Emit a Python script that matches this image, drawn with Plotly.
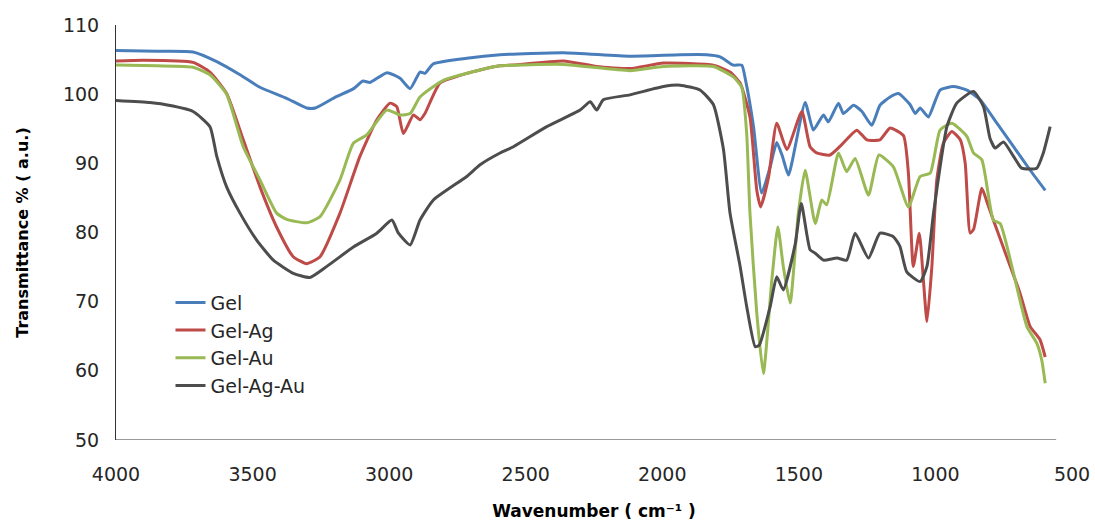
import plotly.graph_objects as go

# ---- data (wavenumber cm-1, transmittance %) ----
gel_x = [4000, 3850, 3718, 3631, 3546, 3473, 3375, 3302, 3270, 3200, 3130, 3096, 3070, 3008, 2960, 2923,
         2887, 2869, 2838, 2716, 2594, 2362, 2118, 1935, 1837, 1788, 1740, 1709, 1695, 1666, 1636, 1605,
         1581, 1560, 1538, 1477, 1447, 1410, 1392, 1355, 1337, 1300, 1269, 1233, 1203, 1166, 1135, 1093,
         1074, 1056, 1026, 983, 934, 885, 836, 775, 714, 653, 598]
gel_y = [106.3, 106.2, 106.1, 104.7, 102.8, 101.0, 99.4, 98.0, 98.0, 99.5, 100.8, 101.9, 101.7, 103.1, 102.3, 100.8,
         103.2, 103.0, 104.4, 105.2, 105.7, 106.0, 105.5, 105.7, 105.7, 105.4, 104.2, 104.2, 102.0, 95.3, 85.7, 89.5,
         93.0, 91.0, 88.3, 98.8, 94.8, 97.0, 96.0, 98.7, 97.2, 98.4, 97.5, 95.5, 98.4, 99.6, 100.1, 98.5,
         97.2, 98.0, 96.7, 100.6, 101.1, 100.6, 99.2, 95.8, 92.4, 89.0, 86.1]

ag_x = [4000, 3900, 3718, 3656, 3595, 3534, 3473, 3412, 3351, 3302, 3253, 3180, 3107, 3045, 2997, 2972,
        2948, 2911, 2887, 2869, 2814, 2716, 2667, 2594, 2545, 2362, 2240, 2118, 1996, 1813, 1752, 1715,
        1679, 1654, 1640, 1611, 1581, 1544, 1489, 1459, 1435, 1386, 1343, 1288, 1251, 1203, 1166, 1117,
        1099, 1081, 1059, 1044, 1031, 1013, 995, 971, 940, 909, 891, 873, 860, 830, 812, 788, 739, 690,
        653, 617, 598]
ag_y = [104.8, 104.9, 104.6, 103.2, 100.1, 93.4, 86.6, 80.8, 76.5, 75.5, 76.5, 82.8, 91.0, 96.3, 98.7, 98.2,
        94.3, 97.0, 96.3, 97.2, 101.6, 103.0, 103.5, 104.1, 104.2, 104.8, 104.0, 103.7, 104.5, 104.2, 103.2, 101.6,
        96.7, 86.1, 83.7, 88.0, 95.8, 92.0, 97.5, 92.4, 91.5, 91.2, 92.7, 94.8, 93.4, 93.4, 95.1, 94.0,
        88.6, 75.1, 79.9, 73.1, 67.1, 75.1, 87.6, 92.9, 94.6, 93.4, 90.0, 79.9, 80.5, 86.4, 84.5, 81.8, 76.5, 71.2,
        66.4, 64.5, 62.0]

au_x = [4000, 3850, 3718, 3656, 3595, 3534, 3473, 3412, 3375, 3302, 3253, 3180, 3131, 3082, 3009, 2960,
        2923, 2887, 2802, 2667, 2594, 2362, 2118, 1996, 1813, 1740, 1709, 1691, 1679, 1654, 1630, 1599,
        1577, 1557, 1532, 1502, 1477, 1440, 1416, 1398, 1355, 1325, 1294, 1245, 1207, 1154, 1099, 1056,
        1019, 983, 940, 885, 861, 830, 788, 763, 714, 665, 629, 611, 598]
au_y = [104.2, 104.1, 103.9, 102.8, 100.0, 92.4, 87.6, 82.8, 81.9, 81.4, 82.3, 87.6, 92.9, 94.1, 97.7, 97.0,
        97.2, 99.6, 102.0, 103.5, 104.1, 104.3, 103.4, 104.0, 104.0, 102.5, 101.0, 94.3, 82.8, 68.3, 59.6, 73.1,
        80.8, 75.1, 69.8, 82.8, 89.0, 81.3, 84.7, 84.0, 91.5, 88.8, 90.7, 85.4, 91.2, 89.5, 83.7, 88.1,
        88.6, 94.8, 95.8, 93.9, 91.5, 90.5, 81.8, 81.3, 74.1, 66.4, 64.0, 61.6, 58.2]

agau_x = [4000, 3876, 3836, 3718, 3656, 3631, 3595, 3546, 3485, 3424, 3351, 3290, 3228, 3131, 3045, 2990,
          2966, 2923, 2887, 2838, 2716, 2667, 2594, 2545, 2423, 2301, 2264, 2240, 2216, 2118, 1996, 1935,
          1862, 1813, 1776, 1752, 1715, 1691, 1660, 1645, 1605, 1581, 1557, 1513, 1491, 1459, 1440, 1410,
          1360, 1325, 1294, 1245, 1203, 1154, 1130, 1105, 1056, 1031, 1007, 958, 922, 861, 824, 800,
          781, 751, 714, 684, 629, 605, 580]
agau_y = [99.1, 98.8, 98.6, 97.5, 95.3, 91.0, 86.6, 82.8, 78.9, 76.0, 74.1, 73.5, 75.1, 77.9, 79.9, 81.8,
          79.9, 78.2, 81.8, 84.7, 88.1, 89.8, 91.5, 92.4, 95.3, 97.7, 98.9, 97.7, 99.2, 99.9, 101.1, 101.3,
          100.6, 98.5, 92.0, 82.8, 75.1, 69.3, 63.5, 63.7, 69.3, 73.6, 71.7, 78.4, 84.2, 77.5, 77.0, 76.0,
          76.3, 76.0, 79.9, 76.3, 79.9, 79.4, 78.0, 74.3, 72.9, 75.1, 82.8, 95.3, 98.7, 100.4, 98.2, 93.6,
          92.2, 93.1, 91.0, 89.3, 89.3, 91.5, 95.3]

series_names = ["Gel", "Gel-Ag", "Gel-Au", "Gel-Ag-Au"]
series_colors = ["#4A7EBB", "#BE4B48", "#98B954", "#4D4D4D"]

x_ticks = [4000, 3500, 3000, 2500, 2000, 1500, 1000, 500]
y_ticks = [50, 60, 70, 80, 90, 100, 110]

FONT = "DejaVu Sans"

fig = go.Figure()
for name, xs, ys, col in zip(series_names, [gel_x, ag_x, au_x, agau_x], [gel_y, ag_y, au_y, agau_y], series_colors):
    fig.add_trace(go.Scatter(x=xs, y=ys, mode="lines", name=name,
                             line=dict(color=col, width=3, shape="spline", smoothing=0.5)))

fig.update_layout(
    width=1095, height=521,
    margin=dict(l=116, r=23, t=25, b=81),
    paper_bgcolor="white", plot_bgcolor="white",
    font=dict(family=FONT, size=19, color="#262626"),
    showlegend=True,
    legend=dict(x=0.057, y=0.377, xanchor="left", yanchor="top",
                bgcolor="rgba(0,0,0,0)", font=dict(size=19, color="#262626"),
                tracegroupgap=0),
    xaxis=dict(range=[4000, 500], tickvals=x_ticks, ticktext=[str(v) for v in x_ticks],
               showgrid=False, zeroline=False, showline=False, ticks="", automargin=False,
               ticklabelstandoff=21,
               title=dict(text="<b>Wavenumber ( cm⁻¹ )</b>", font=dict(size=17, color="#000000"),
                          standoff=21)),
    yaxis=dict(range=[50, 110], tickvals=y_ticks, ticktext=[str(v) for v in y_ticks],
               showgrid=False, zeroline=False, showline=True, linecolor="#333333", linewidth=1,
               ticks="", ticklabelstandoff=12, automargin=False,
               title=dict(text="<b>Transmittance % ( a.u.)</b>", font=dict(size=16, color="#000000"),
                          standoff=30)),
)

fig.add_shape(type="line", xref="x", yref="y", x0=4000, x1=558, y0=50, y1=50,
              line=dict(color="#333333", width=1))

fig.write_html("out.html")
